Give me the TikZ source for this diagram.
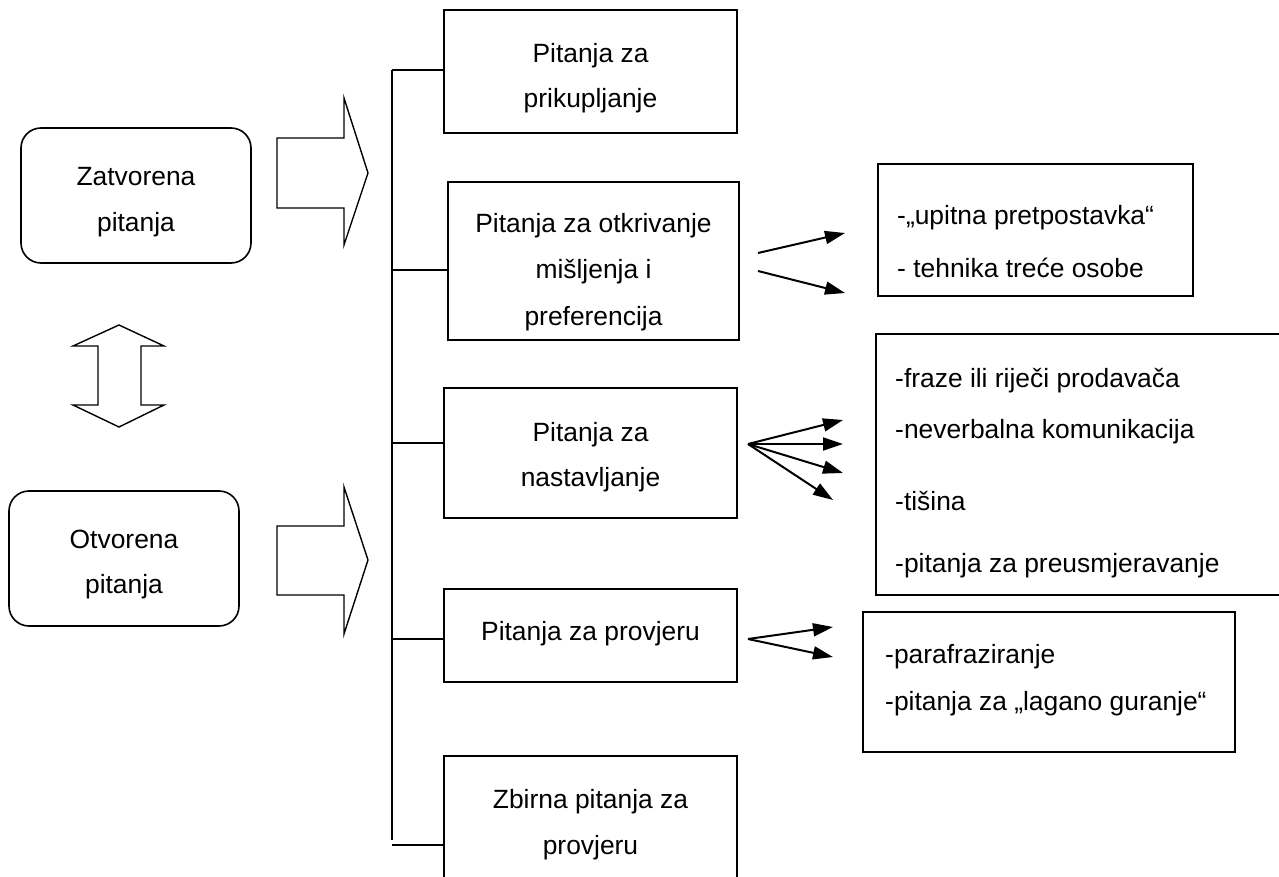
\documentclass[tikz,border=0pt]{standalone}
\usepackage{fontspec}
\setmainfont{Liberation Sans}
\usetikzlibrary{arrows.meta}
\begin{document}
\begin{tikzpicture}[x=1pt,y=-1pt,
  box/.style={draw=black,line width=1.6pt,inner sep=0pt,fill=none},
  rbox/.style={box,rounded corners=20pt},
  txt/.style={inner sep=0pt,anchor=base,font=\fontsize{26.4}{30}\selectfont},
  ltxt/.style={txt,anchor=base west},
  blockarrow/.style={draw=black,line width=1.4pt,line join=miter,fill=white},
  conn/.style={draw=black,line width=1.6pt},
  arr/.style={draw=black,line width=2pt,-{Triangle[length=20pt,width=13pt]}}]
\useasboundingbox (0,0) rectangle (1279,877);
\begin{scope}
\clip (0,0) rectangle (1279,877);
% left rounded boxes
\node[rbox,minimum width=230pt,minimum height=135pt] (zat) at (136,195.5) {};
\node[txt] (zat1) at (136,186) {Zatvorena};
\node[txt] (zat2) at (136,232) {pitanja};
\node[rbox,minimum width=230pt,minimum height=135pt] (otv) at (124,558.5) {};
\node[txt] (otv1) at (124,548) {Otvorena};
\node[txt] (otv2) at (124,593) {pitanja};
% block arrows
\draw[blockarrow] (277,138) -- (344,138) -- (344,98) -- (368,173) -- (344,245) -- (344,208) -- (277,208) -- cycle;
\draw[blockarrow] (277,526) -- (344,526) -- (344,487) -- (368,560) -- (344,634) -- (344,595) -- (277,595) -- cycle;
\draw[blockarrow] (119,325) -- (164,346) -- (141,346) -- (141,405) -- (164,405) -- (119,427) -- (73,405) -- (98,405) -- (98,346) -- (73,346) -- cycle;
% middle boxes
\node[box,minimum width=293pt,minimum height=123pt] (b1) at (590.5,71.5) {};
\node[txt] (b1a) at (590.5,63) {Pitanja za};
\node[txt] (b1b) at (590.5,108) {prikupljanje};
\node[box,minimum width=291pt,minimum height=158pt] (b2) at (593.5,261) {};
\node[txt] (b2a) at (593.5,233) {Pitanja za otkrivanje};
\node[txt] (b2b) at (593.5,279) {mišljenja i};
\node[txt] (b2c) at (593.5,325) {preferencija};
\node[box,minimum width=293pt,minimum height=130pt] (b3) at (590.5,453) {};
\node[txt] (b3a) at (590.5,441) {Pitanja za};
\node[txt] (b3b) at (590.5,486) {nastavljanje};
\node[box,minimum width=293pt,minimum height=93pt] (b4) at (590.5,635.5) {};
\node[txt] (b4a) at (590.5,640) {Pitanja za provjeru};
\node[box,minimum width=293pt,minimum height=134pt] (b5) at (590.5,823) {};
\node[txt] (b5a) at (590.5,808) {Zbirna pitanja za};
\node[txt] (b5b) at (590.5,854) {provjeru};
% trunk and branches
\coordinate (tTop) at (392,70);
\coordinate (tBot) at (392,840);
\coordinate (t1) at (392,70);
\coordinate (t2) at (392,270);
\coordinate (t3) at (392,443);
\coordinate (t4) at (392,639);
\coordinate (t5) at (392,845);
\draw[conn] (tTop) -- (tBot);
\draw[conn] (t1) -- (t1 -| b1.west);
\draw[conn] (t2) -- (t2 -| b2.west);
\draw[conn] (t3) -- (t3 -| b3.west);
\draw[conn] (t4) -- (t4 -| b4.west);
\draw[conn] (t5) -- (t5 -| b5.west);
% right boxes
\node[box,minimum width=315pt,minimum height=132pt] (ra) at (1035.5,230) {};
\node[ltxt] (ra1) at (897,225) {-„upitna pretpostavka“};
\node[ltxt] (ra2) at (897,277) {- tehnika treće osobe};
\node[box,minimum width=414pt,minimum height=261pt] (rb) at (1083,464.5) {};
\node[ltxt] (rb1) at (895,387) {-fraze ili riječi prodavača};
\node[ltxt] (rb2) at (895,438) {-neverbalna komunikacija};
\node[ltxt] (rb3) at (895,510) {-tišina};
\node[ltxt] (rb4) at (895,572) {-pitanja za preusmjeravanje};
\node[box,minimum width=372pt,minimum height=140pt] (rc) at (1049,682) {};
\node[ltxt] (rc1) at (885,663) {-parafraziranje};
\node[ltxt] (rc2) at (885,710) {-pitanja za „lagano guranje“};
% small arrows
\coordinate (s2a) at (758,253);
\coordinate (s2b) at (758,271);
\coordinate (e2a) at (845,233);
\coordinate (e2b) at (845,293);
\draw[arr] (s2a) -- (e2a);
\draw[arr] (s2b) -- (e2b);
\coordinate (s3) at (748,444);
\coordinate (e3a) at (843,420);
\coordinate (e3b) at (843,444);
\coordinate (e3c) at (843,473);
\coordinate (e3d) at (833,500);
\draw[arr] (s3) -- (e3a);
\draw[arr] (s3) -- (e3b);
\draw[arr] (s3) -- (e3c);
\draw[arr] (s3) -- (e3d);
\coordinate (s4) at (748,639);
\coordinate (e4a) at (833,627);
\coordinate (e4b) at (833,657);
\draw[arr] (s4) -- (e4a);
\draw[arr] (s4) -- (e4b);
\end{scope}
\end{tikzpicture}
\end{document}
